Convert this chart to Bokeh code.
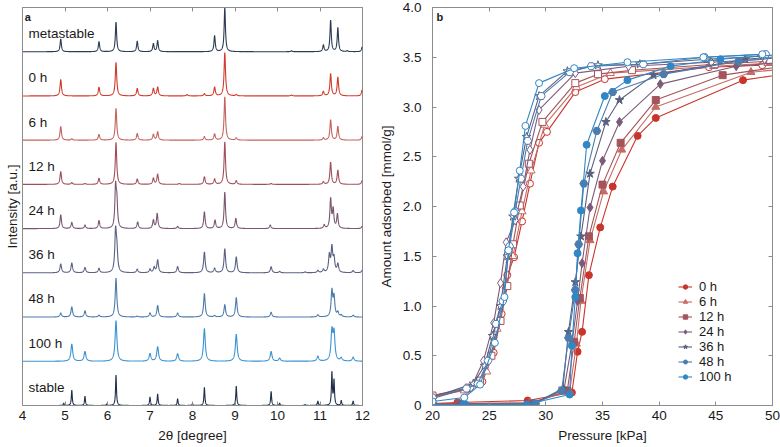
import numpy as np
from bokeh.plotting import figure
from bokeh.layouts import row
from bokeh.models import (ColumnDataSource, FixedTicker, LinearAxis, Range1d,
                          Legend, LegendItem, Label, PrintfTickFormatter)
from bokeh.core.properties import value
from bokeh.embed import file_html
from bokeh.resources import INLINE

FONT = "Liberation Sans"
GREY = "#8c8c8c"
TXT = "#1a1a1a"

# ---------------- panel a: PXRD patterns (peak positions [2theta], relative intensities) ----------
sample_names = ["metastable", "0 h", "6 h", "12 h", "24 h", "36 h", "48 h", "100 h", "stable"]
sample_colors = ["#2b3a50", "#cf3b2d", "#c4625c", "#a04f5a", "#7a5570",
                 "#5a6183", "#4b7bab", "#3a93d3", "#1f2f4a"]
peak_width = [0.018, 0.02, 0.02, 0.02, 0.02, 0.022, 0.022, 0.025, 0.013]

pos_metastable = [4.90, 5.80, 6.20, 6.70, 7.08, 7.18, 8.52, 8.76, 10.33, 11.08, 11.25, 11.42, 11.64, 11.99]
int_metastable = [0.29, 0.23, 0.67, 0.24, 0.18, 0.25, 0.36, 1.00, 0.02, 0.15, 0.71, 0.54, 0.02, 0.10]

pos_0h = [4.90, 5.80, 6.20, 6.70, 7.08, 7.18, 7.87, 8.28, 8.52, 8.76, 9.03, 10.33, 11.08, 11.25, 11.42, 11.99]
int_0h = [0.37, 0.20, 0.76, 0.17, 0.17, 0.20, 0.03, 0.05, 0.20, 0.98, 0.03, 0.02, 0.10, 0.50, 0.42, 0.13]

pos_6h = [4.90, 5.16, 5.80, 6.20, 6.70, 7.08, 7.18, 8.28, 8.52, 8.76, 9.03, 11.08, 11.25, 11.42, 11.99]
int_6h = [0.31, 0.03, 0.13, 0.72, 0.15, 0.13, 0.19, 0.08, 0.14, 0.98, 0.05, 0.05, 0.46, 0.31, 0.08]

pos_12h = [4.90, 5.16, 5.47, 5.80, 6.20, 6.70, 7.08, 7.18, 7.69, 8.28, 8.52, 8.76, 9.03, 9.85, 11.08, 11.25, 11.42, 11.99]
int_12h = [0.29, 0.04, 0.02, 0.14, 0.95, 0.12, 0.14, 0.23, 0.02, 0.17, 0.12, 0.96, 0.08, 0.02, 0.06, 0.50, 0.32, 0.08]

pos_24h = [4.90, 5.16, 5.47, 5.80, 6.19, 6.22, 6.71, 7.08, 7.17, 7.65, 8.28, 8.53, 8.76, 9.02, 9.83, 11.10, 11.25, 11.31, 11.41, 11.99]
int_24h = [0.31, 0.14, 0.08, 0.18, 0.90, 0.55, 0.15, 0.19, 0.34, 0.05, 0.38, 0.19, 0.82, 0.23, 0.08, 0.08, 0.66, 0.42, 0.32, 0.05]

pos_36h = [4.90, 5.16, 5.47, 5.80, 6.19, 6.22, 6.70, 7.00, 7.10, 7.18, 7.65, 8.28, 8.52, 8.76, 9.03, 9.85, 10.05, 10.65, 10.95, 11.08, 11.22, 11.28, 11.33, 11.42, 11.78, 11.99]
int_36h = [0.20, 0.22, 0.12, 0.10, 0.90, 0.45, 0.08, 0.08, 0.12, 0.29, 0.14, 0.47, 0.10, 0.54, 0.36, 0.14, 0.03, 0.02, 0.05, 0.07, 0.38, 0.55, 0.30, 0.19, 0.05, 0.05]

pos_48h = [4.90, 5.16, 5.47, 5.80, 6.20, 6.70, 7.00, 7.18, 7.65, 8.28, 8.52, 8.76, 9.03, 9.85, 10.95, 11.28, 11.33, 11.42, 11.50, 11.78]
int_48h = [0.09, 0.23, 0.14, 0.04, 0.88, 0.02, 0.09, 0.26, 0.09, 0.53, 0.03, 0.28, 0.44, 0.11, 0.05, 0.58, 0.44, 0.10, 0.04, 0.04]

pos_100h = [5.16, 5.47, 6.20, 7.00, 7.18, 7.65, 8.28, 9.03, 9.85, 10.05, 10.95, 11.28, 11.33, 11.50, 11.78]
int_100h = [0.39, 0.22, 0.92, 0.17, 0.33, 0.17, 0.74, 0.61, 0.22, 0.07, 0.11, 0.66, 0.62, 0.07, 0.09]

pos_stable = [4.97, 5.16, 5.47, 5.98, 6.20, 7.00, 7.18, 7.65, 8.00, 8.28, 9.03, 9.85, 10.05, 10.65, 10.95, 11.28, 11.33, 11.50, 11.78]
int_stable = [0.05, 0.35, 0.21, 0.03, 0.69, 0.19, 0.26, 0.15, 0.04, 0.41, 0.44, 0.32, 0.05, 0.02, 0.10, 0.74, 0.56, 0.11, 0.10]

peak_positions = [pos_metastable, pos_0h, pos_6h, pos_12h, pos_24h, pos_36h, pos_48h, pos_100h, pos_stable]
peak_heights = [int_metastable, int_0h, int_6h, int_12h, int_24h, int_36h, int_48h, int_100h, int_stable]

two_theta_ticks = [4, 5, 6, 7, 8, 9, 10, 11, 12]

# ---------------- panel b: isotherms (pressure kPa, amount mmol/g) ----------------
iso_labels = ["0 h", "6 h", "12 h", "24 h", "36 h", "48 h", "100 h"]
iso_colors = ["#c9352b", "#c66b66", "#a4545a", "#7c5b7a", "#58607e", "#4c7cae", "#2f87c6"]
iso_markers = ["circle", "triangle", "square", "diamond", "star", "hex", "circle"]
iso_sizes = [7, 8, 7, 9, 9, 8, 7]

ads_p_0h = [20.0, 22.2, 28.4, 32.3, 32.8, 33.2, 33.8, 34.8, 35.9, 38.1, 39.7, 47.4, 51.0]
ads_n_0h = [0.02, 0.03, 0.05, 0.13, 0.54, 0.74, 1.31, 1.79, 2.20, 2.71, 2.89, 3.27, 3.33]
des_p_0h = [49.1, 44.4, 35.2, 32.6, 30.1, 29.4, 28.6, 27.9, 27.2, 26.6, 26.1, 25.4, 24.4, 23.0, 20.0]
des_n_0h = [3.42, 3.40, 3.28, 3.15, 2.75, 2.64, 2.23, 1.85, 1.49, 1.31, 0.92, 0.53, 0.24, 0.16, 0.10]

ads_p_6h = [20.0, 22.3, 28.6, 32.1, 32.7, 33.1, 33.9, 35.1, 36.7, 39.7, 48.1, 51.0]
ads_n_6h = [0.02, 0.02, 0.03, 0.14, 0.62, 1.05, 1.66, 2.15, 2.57, 3.00, 3.35, 3.38]
des_p_6h = [49.6, 44.8, 35.7, 32.7, 29.9, 28.7, 27.9, 27.1, 26.5, 25.7, 24.8, 24.0, 22.8, 20.0]
des_n_6h = [3.44, 3.41, 3.34, 3.20, 2.82, 2.36, 1.95, 1.50, 1.20, 0.77, 0.34, 0.22, 0.15, 0.09]

ads_p_12h = [20.0, 22.3, 28.7, 31.9, 32.5, 33.0, 33.8, 35.0, 36.6, 39.7, 45.6, 51.0]
ads_n_12h = [0.02, 0.02, 0.02, 0.15, 0.64, 1.08, 1.70, 2.22, 2.64, 3.07, 3.32, 3.41]
des_p_12h = [49.8, 44.9, 37.6, 34.6, 32.6, 29.7, 28.5, 27.7, 27.1, 26.6, 26.0, 25.2, 24.2, 23.2, 20.0]
des_n_12h = [3.46, 3.43, 3.37, 3.33, 3.24, 2.85, 2.43, 2.01, 1.62, 1.20, 0.85, 0.50, 0.25, 0.18, 0.10]

ads_p_24h = [20.0, 22.5, 28.9, 31.6, 32.3, 32.8, 33.2, 33.9, 35.0, 36.5, 40.1, 46.8, 51.0]
ads_n_24h = [0.01, 0.01, 0.02, 0.16, 0.62, 1.05, 1.43, 1.99, 2.46, 2.85, 3.23, 3.41, 3.45]
des_p_24h = [49.3, 44.6, 37.3, 32.6, 29.4, 28.6, 28.0, 27.3, 26.5, 26.0, 25.4, 24.5, 23.4, 20.0]
des_n_24h = [3.48, 3.45, 3.41, 3.34, 2.97, 2.57, 2.20, 1.86, 1.64, 1.23, 0.83, 0.45, 0.18, 0.07]

ads_p_36h = [20.0, 22.5, 29.0, 31.5, 32.0, 32.6, 33.1, 33.9, 35.3, 36.5, 39.5, 47.6, 51.0]
ads_n_36h = [0.01, 0.01, 0.02, 0.17, 0.74, 1.24, 1.70, 2.33, 2.85, 3.07, 3.32, 3.48, 3.51]
des_p_36h = [49.0, 44.2, 38.3, 34.6, 31.9, 29.4, 28.3, 27.6, 27.1, 26.6, 26.0, 25.3, 24.6, 23.6, 20.0]
des_n_36h = [3.51, 3.48, 3.43, 3.42, 3.36, 3.11, 2.70, 2.28, 1.90, 1.50, 1.00, 0.70, 0.40, 0.22, 0.08]

ads_p_48h = [20.0, 22.7, 29.1, 31.4, 32.0, 32.6, 32.9, 33.35, 34.5, 35.9, 40.4, 47.0, 51.0]
ads_n_48h = [0.01, 0.01, 0.02, 0.15, 0.68, 1.16, 1.62, 2.23, 2.76, 3.15, 3.33, 3.46, 3.50]
des_p_48h = [49.4, 44.0, 38.6, 34.0, 32.1, 29.6, 28.4, 27.8, 27.3, 26.8, 26.2, 25.6, 24.9, 24.0, 23.0, 20.0]
des_n_48h = [3.53, 3.50, 3.43, 3.41, 3.35, 3.11, 2.66, 2.28, 1.95, 1.60, 1.05, 0.82, 0.45, 0.22, 0.17, 0.08]

ads_p_100h = [20.0, 22.9, 28.3, 32.1, 32.3, 32.6, 32.8, 33.1, 33.6, 35.2, 37.2, 41.0, 45.4, 51.0]
ads_n_100h = [0.01, 0.01, 0.01, 0.11, 0.60, 1.09, 1.53, 1.96, 2.62, 3.11, 3.27, 3.41, 3.48, 3.53]
des_p_100h = [49.1, 43.9, 37.2, 32.5, 29.4, 28.2, 27.7, 27.2, 26.7, 26.35, 25.5, 24.2, 22.8, 20.0]
des_n_100h = [3.53, 3.50, 3.45, 3.39, 3.24, 2.81, 2.36, 1.94, 1.56, 1.09, 0.63, 0.21, 0.08, 0.04]

ads_p = [ads_p_0h, ads_p_6h, ads_p_12h, ads_p_24h, ads_p_36h, ads_p_48h, ads_p_100h]
ads_n = [ads_n_0h, ads_n_6h, ads_n_12h, ads_n_24h, ads_n_36h, ads_n_48h, ads_n_100h]
des_p = [des_p_0h, des_p_6h, des_p_12h, des_p_24h, des_p_36h, des_p_48h, des_p_100h]
des_n = [des_n_0h, des_n_6h, des_n_12h, des_n_24h, des_n_36h, des_n_48h, des_n_100h]

pressure_ticks = [20, 25, 30, 35, 40, 45, 50]
amount_ticks = [0, 0.5, 1.0, 1.5, 2.0, 2.5, 3.0, 3.5, 4.0]

FS = "13.5px"


def style_axis(ax, show_labels=True):
    ax.axis_line_color = GREY
    ax.major_tick_line_color = GREY
    ax.major_tick_in = 4
    ax.major_tick_out = 0
    ax.minor_tick_line_color = None
    ax.major_label_text_font = FONT
    ax.axis_label_text_font = FONT
    ax.axis_label_text_font_style = "normal"
    ax.axis_label_text_color = TXT
    ax.axis_label_text_font_size = FS
    if show_labels:
        ax.major_label_text_color = TXT
        ax.major_label_text_font_size = FS
        ax.major_label_standoff = 5
    else:
        ax.major_label_text_color = None
        ax.major_label_text_font_size = "0px"
        ax.major_label_standoff = 0


H = 447

# ---------------- panel a ----------------
p1 = figure(width=370, height=H, x_range=Range1d(4, 12), y_range=Range1d(0, 9),
            output_backend="svg", toolbar_location=None,
            min_border_left=22, min_border_right=8, min_border_top=7, min_border_bottom=42)
p1.grid.visible = False
p1.outline_line_color = GREY

tt = np.linspace(4, 12, 3201)
n_samples = len(sample_names)
for i in range(n_samples):
    base = n_samples - 1 - i
    w = peak_width[i]
    y = np.full_like(tt, float(base))
    for pos, h in zip(peak_positions[i], peak_heights[i]):
        y = y + h / (1.0 + ((tt - pos) / w) ** 2)
    p1.line(tt, y, line_color=sample_colors[i], line_width=1.1)

lab_src = ColumnDataSource(dict(
    x=[4.14] * n_samples,
    y=[n_samples - 1 - i + 0.41 for i in range(n_samples)],
    text=sample_names))
p1.text(x="x", y="y", text="text", source=lab_src, text_font=value(FONT),
        text_font_size=FS, text_baseline="middle", text_align="left", text_color=TXT)

p1.add_layout(Label(x=4.05, y=8.93, text="a", text_font=FONT, text_font_size="11px",
                    text_font_style="bold", text_baseline="top", text_color=TXT))

p1.xaxis.ticker = FixedTicker(ticks=two_theta_ticks)
p1.xaxis.axis_label = "2θ [degree]"
style_axis(p1.xaxis[0])
p1.xaxis.axis_label_standoff = 5
p1.yaxis.ticker = FixedTicker(ticks=[])
p1.yaxis.axis_label = "Intensity [a.u.]"
style_axis(p1.yaxis[0], show_labels=False)
p1.yaxis.axis_label_standoff = 3

top1 = LinearAxis(ticker=FixedTicker(ticks=two_theta_ticks))
style_axis(top1, show_labels=False)
p1.add_layout(top1, "above")

# ---------------- panel b ----------------
p2 = figure(width=410, height=H, x_range=Range1d(20, 50), y_range=Range1d(0, 4),
            output_backend="svg", toolbar_location=None,
            min_border_left=62, min_border_right=8, min_border_top=7, min_border_bottom=42)
p2.grid.visible = False
p2.outline_line_color = GREY

items = []
for i, lab in enumerate(iso_labels):
    c = iso_colors[i]
    m = iso_markers[i]
    s = iso_sizes[i]
    la = p2.line(ads_p[i], ads_n[i], line_color=c, line_width=1.1)
    sa = p2.scatter(ads_p[i], ads_n[i], marker=m, size=s, fill_color=c, line_color=c, line_width=1)
    p2.line(des_p[i], des_n[i], line_color=c, line_width=1.1)
    p2.scatter(des_p[i], des_n[i], marker=m, size=s, fill_color="white", line_color=c, line_width=1)
    items.append(LegendItem(label=lab, renderers=[la, sa]))

legend = Legend(items=items, location=(246, 21), label_text_font=FONT,
                label_text_font_size="13px", label_text_color=TXT,
                label_height=11, glyph_height=11, glyph_width=14, spacing=0,
                padding=0, margin=0, label_standoff=7, border_line_color=None,
                background_fill_alpha=0)
p2.add_layout(legend)

p2.add_layout(Label(x=20.35, y=3.96, text="b", text_font=FONT, text_font_size="11px",
                    text_font_style="bold", text_baseline="top", text_color=TXT))

p2.xaxis.ticker = FixedTicker(ticks=pressure_ticks)
p2.xaxis.axis_label = "Pressure [kPa]"
style_axis(p2.xaxis[0])
p2.xaxis.axis_label_standoff = 5
p2.yaxis.ticker = FixedTicker(ticks=amount_ticks)
p2.yaxis.formatter = PrintfTickFormatter(format="%.1f")
p2.yaxis.major_label_overrides = {0: "0"}
p2.yaxis.axis_label = "Amount adsorbed [mmol/g]"
style_axis(p2.yaxis[0])
p2.yaxis.major_label_standoff = 11
p2.yaxis.axis_label_standoff = 6

top2 = LinearAxis(ticker=FixedTicker(ticks=pressure_ticks))
style_axis(top2, show_labels=False)
p2.add_layout(top2, "above")
right2 = LinearAxis(ticker=FixedTicker(ticks=amount_ticks))
style_axis(right2, show_labels=False)
p2.add_layout(right2, "right")

layout = row(p1, p2)
open("out.html", "w").write(file_html(layout, INLINE))
